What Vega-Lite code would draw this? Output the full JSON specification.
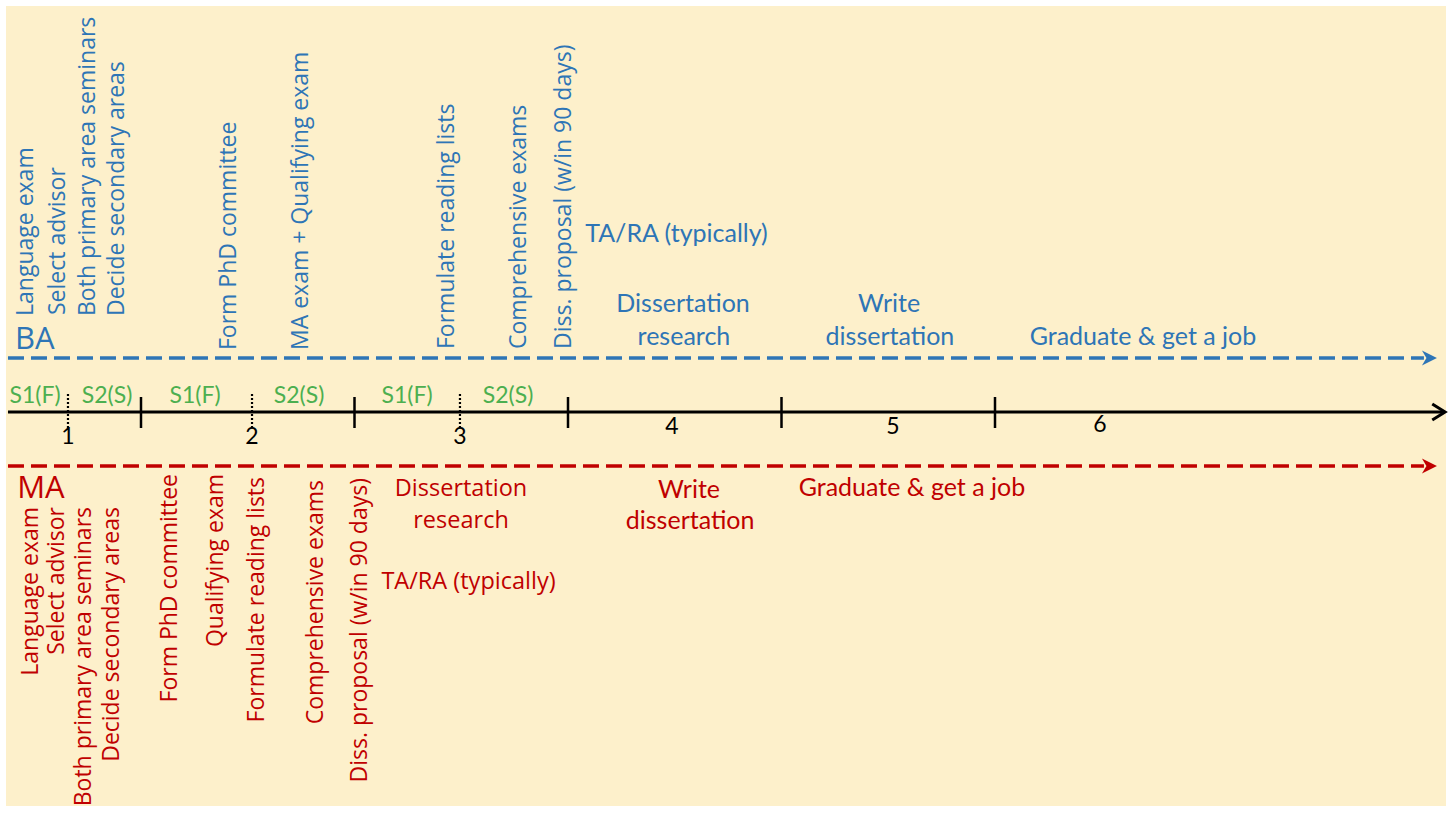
{
  "$schema": "https://vega.github.io/schema/vega-lite/v6.json",
  "width": 1440,
  "height": 800,
  "autosize": {"type": "none"},
  "padding": {"left": 6, "top": 6, "right": 5, "bottom": 7},
  "background": "#ffffff",
  "config": {"view": {"fill": "#FDF0CB", "stroke": null}},
  "datasets": {
    "tracks": [
      {"track": "BA", "t": 0.377, "v": 54},
      {"track": "BA", "t": 7.009, "v": 54},
      {"track": "MA", "t": 0.377, "v": -54},
      {"track": "MA", "t": 7.009, "v": -54}
    ],
    "trackArrows": [
      {"track": "BA", "t": 7.07, "v": 54},
      {"track": "MA", "t": 7.07, "v": -54}
    ],
    "axisLine": [
      {"t": 0.377, "v": 0},
      {"t": 7.098, "v": 0}
    ],
    "axisArrow": [
      {"t": 7.108, "v": 0}
    ],
    "yearTicks": [
      {"t": 1}, {"t": 2}, {"t": 3}, {"t": 4}, {"t": 5}
    ],
    "semesterMarks": [
      {"t": 0.658}, {"t": 1.52}, {"t": 2.494}
    ],
    "yearLabels": [
      {"label": "1", "t": 0.658, "v": -25},
      {"label": "2", "t": 1.52, "v": -25},
      {"label": "3", "t": 2.494, "v": -25},
      {"label": "4", "t": 3.487, "v": -15},
      {"label": "5", "t": 4.522, "v": -15},
      {"label": "6", "t": 5.492, "v": -13}
    ],
    "semesterLabels": [
      {"label": "S1(F)", "t": 0.5035, "v": 16},
      {"label": "S2(S)", "t": 0.8407, "v": 16},
      {"label": "S1(F)", "t": 1.2529, "v": 16},
      {"label": "S2(S)", "t": 1.74, "v": 16},
      {"label": "S1(F)", "t": 2.246, "v": 16},
      {"label": "S2(S)", "t": 2.719, "v": 16}
    ],
    "trackNames": [
      {"label": "BA", "track": "BA", "t": 0.41, "v": 63},
      {"label": "MA", "track": "MA", "t": 0.42, "v": -86}
    ],
    "baMilestones": [
      {"label": "Language exam", "t": 0.4614, "v": 96},
      {"label": "Select advisor", "t": 0.6112, "v": 97},
      {"label": "Both primary area seminars", "t": 0.7518, "v": 96},
      {"label": "Decide secondary areas", "t": 0.8876, "v": 96},
      {"label": "Form PhD committee", "t": 1.4122, "v": 62},
      {"label": "MA exam + Qualifying exam", "t": 1.7494, "v": 62},
      {"label": "Formulate reading lists", "t": 2.4333, "v": 63},
      {"label": "Comprehensive exams", "t": 2.7705, "v": 63},
      {"label": "Diss. proposal (w/in 90 days)", "t": 2.9813, "v": 63}
    ],
    "maMilestones": [
      {"label": "Language exam", "t": 0.4848, "v": -95},
      {"label": "Select advisor", "t": 0.6066, "v": -95},
      {"label": "Both primary area seminars", "t": 0.733, "v": -95},
      {"label": "Decide secondary areas", "t": 0.8642, "v": -95},
      {"label": "Form PhD committee", "t": 1.1358, "v": -62},
      {"label": "Qualifying exam", "t": 1.3513, "v": -62},
      {"label": "Formulate reading lists", "t": 1.5433, "v": -65},
      {"label": "Comprehensive exams", "t": 1.8197, "v": -68},
      {"label": "Diss. proposal (w/in 90 days)", "t": 2.0258, "v": -66}
    ],
    "baPhases": [
      {"label": "TA/RA (typically)", "t": 3.508, "v": 178},
      {"label": "Dissertation", "t": 3.539, "v": 108},
      {"label": "research", "t": 3.543, "v": 75},
      {"label": "Write", "t": 4.504, "v": 108},
      {"label": "dissertation", "t": 4.508, "v": 75},
      {"label": "Graduate & get a job", "t": 5.693, "v": 75}
    ],
    "maPhasesA": [
      {"label": "Dissertation", "t": 2.499, "v": -77},
      {"label": "research", "t": 2.499, "v": -109},
      {"label": "TA/RA (typically)", "t": 2.534, "v": -170}
    ],
    "maPhasesB": [
      {"label": "Write", "t": 3.567, "v": -78},
      {"label": "dissertation", "t": 3.572, "v": -109},
      {"label": "Graduate & get a job", "t": 4.611, "v": -76}
    ]
  },
  "layer": [
    {
      "data": {"name": "tracks"},
      "mark": {"type": "line", "strokeDash": [16, 7], "strokeWidth": 3.5},
      "encoding": {
        "x": {"field": "t", "type": "quantitative", "scale": {"domain": [0.3677, 7.1124], "nice": false, "zero": false}, "axis": null},
        "y": {"field": "v", "type": "quantitative", "scale": {"domain": [-394, 406], "nice": false, "zero": false}, "axis": null},
        "color": {"field": "track", "type": "nominal", "scale": {"domain": ["BA", "MA"], "range": ["#2E75B6", "#C00000"]}, "legend": null}
      }
    },
    {
      "data": {"name": "trackArrows"},
      "mark": {"type": "point", "shape": "M-2,-1L0,0L-2,1L-1.4,0Z", "filled": true, "opacity": 1, "size": 225},
      "encoding": {
        "x": {"field": "t", "type": "quantitative"},
        "y": {"field": "v", "type": "quantitative"},
        "color": {"field": "track", "type": "nominal", "scale": {"domain": ["BA", "MA"], "range": ["#2E75B6", "#C00000"]}, "legend": null}
      }
    },
    {
      "data": {"name": "axisLine"},
      "mark": {"type": "line", "color": "#000000", "strokeWidth": 3},
      "encoding": {
        "x": {"field": "t", "type": "quantitative"},
        "y": {"field": "v", "type": "quantitative"}
      }
    },
    {
      "data": {"name": "axisArrow"},
      "mark": {"type": "point", "shape": "M-1.6,-1L0,0L-1.6,1", "filled": false, "opacity": 1, "color": "#000000", "strokeWidth": 3, "size": 256, "strokeJoin": "miter"},
      "encoding": {
        "x": {"field": "t", "type": "quantitative"},
        "y": {"field": "v", "type": "quantitative"}
      }
    },
    {
      "data": {"name": "yearTicks"},
      "mark": {"type": "rule", "color": "#000000", "strokeWidth": 2.5},
      "encoding": {
        "x": {"field": "t", "type": "quantitative"},
        "y": {"datum": 15, "type": "quantitative"},
        "y2": {"datum": -16}
      }
    },
    {
      "data": {"name": "semesterMarks"},
      "mark": {"type": "rule", "color": "#000000", "strokeWidth": 2.2, "strokeDash": [2, 2]},
      "encoding": {
        "x": {"field": "t", "type": "quantitative"},
        "y": {"datum": 18, "type": "quantitative"},
        "y2": {"datum": -16}
      }
    },
    {
      "data": {"name": "yearLabels"},
      "mark": {"type": "text", "font": "Lato", "fontSize": 23, "color": "#000000", "align": "center", "baseline": "middle"},
      "encoding": {
        "x": {"field": "t", "type": "quantitative"},
        "y": {"field": "v", "type": "quantitative"},
        "text": {"field": "label"}
      }
    },
    {
      "data": {"name": "semesterLabels"},
      "mark": {"type": "text", "font": "Lato", "fontSize": 23, "color": "#4CAF50", "align": "center", "baseline": "middle"},
      "encoding": {
        "x": {"field": "t", "type": "quantitative"},
        "y": {"field": "v", "type": "quantitative"},
        "text": {"field": "label"}
      }
    },
    {
      "data": {"name": "trackNames"},
      "mark": {"type": "text", "font": "Open Sans", "fontSize": 31, "fontWeight": 500, "align": "left", "baseline": "alphabetic"},
      "encoding": {
        "x": {"field": "t", "type": "quantitative"},
        "y": {"field": "v", "type": "quantitative"},
        "text": {"field": "label"},
        "color": {"field": "track", "type": "nominal", "scale": {"domain": ["BA", "MA"], "range": ["#2E75B6", "#C00000"]}, "legend": null}
      }
    },
    {
      "data": {"name": "baMilestones"},
      "mark": {"type": "text", "font": "Open Sans", "fontSize": 23, "fontWeight": 500, "color": "#2E75B6", "angle": 270, "align": "left", "baseline": "middle"},
      "encoding": {
        "x": {"field": "t", "type": "quantitative"},
        "y": {"field": "v", "type": "quantitative"},
        "text": {"field": "label"}
      }
    },
    {
      "data": {"name": "maMilestones"},
      "mark": {"type": "text", "font": "Open Sans", "fontSize": 23, "fontWeight": 500, "color": "#C00000", "angle": 270, "align": "right", "baseline": "middle"},
      "encoding": {
        "x": {"field": "t", "type": "quantitative"},
        "y": {"field": "v", "type": "quantitative"},
        "text": {"field": "label"}
      }
    },
    {
      "data": {"name": "baPhases"},
      "mark": {"type": "text", "font": "Lato", "fontSize": 25, "color": "#2E75B6", "align": "center", "baseline": "middle"},
      "encoding": {
        "x": {"field": "t", "type": "quantitative"},
        "y": {"field": "v", "type": "quantitative"},
        "text": {"field": "label"}
      }
    },
    {
      "data": {"name": "maPhasesA"},
      "mark": {"type": "text", "font": "Open Sans", "fontSize": 23.5, "fontWeight": 500, "color": "#C00000", "align": "center", "baseline": "middle"},
      "encoding": {
        "x": {"field": "t", "type": "quantitative"},
        "y": {"field": "v", "type": "quantitative"},
        "text": {"field": "label"}
      }
    },
    {
      "data": {"name": "maPhasesB"},
      "mark": {"type": "text", "font": "Lato", "fontSize": 25, "color": "#C00000", "align": "center", "baseline": "middle"},
      "encoding": {
        "x": {"field": "t", "type": "quantitative"},
        "y": {"field": "v", "type": "quantitative"},
        "text": {"field": "label"}
      }
    }
  ]
}
